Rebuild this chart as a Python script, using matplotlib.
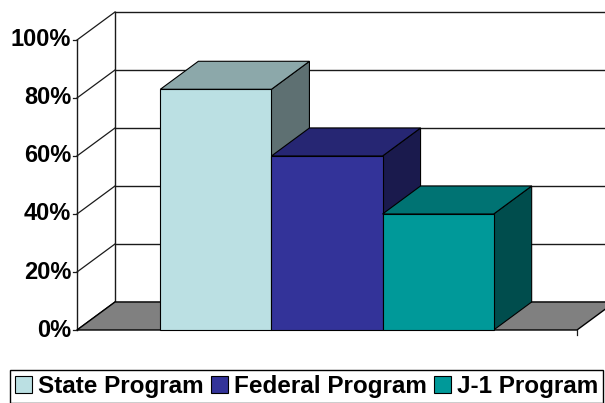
import matplotlib
matplotlib.use('Agg')
import matplotlib.pyplot as plt
from matplotlib.patches import Polygon, Patch

categories = ['State Program', 'Federal Program', 'J-1 Program']
values = [83, 60, 40]
yticks = [0, 20, 40, 60, 80, 100]
ytick_labels = ['0%', '20%', '40%', '60%', '80%', '100%']
front_colors = ['#BBE0E3', '#333399', '#009999']
top_colors = ['#8CA8AA', '#262673', '#007373']
side_colors = ['#5E7072', '#1A1A4D', '#004D4D']

FONT = 'Liberation Sans'

fig = plt.figure(figsize=(6.05, 4.03), dpi=100)
ax = fig.add_axes([0, 0, 1, 1])
ax.set_xlim(-0.462, 3.168)
ax.set_ylim(-25.17, 113.79)
ax.axis('off')

DX, DY = 0.228, 9.66
XMAX = 3.0
bar_w = 2 / 3
start = 0.5
tick = 0.026
gc = '#1a1a1a'

# back wall gridlines + diagonals
for v, lab in zip(yticks, ytick_labels):
    ax.plot([DX, XMAX + DX], [v + DY, v + DY], color=gc, lw=1.0, zorder=1)
    ax.plot([0, DX], [v, v + DY], color=gc, lw=0.9, zorder=1)
    ax.plot([-tick, 0], [v, v], color=gc, lw=0.9, zorder=1)
    ax.text(-0.035, v, lab, ha='right', va='center',
            fontsize=17, fontweight='bold', family=FONT)
ax.plot([DX, DX], [DY, 100 + DY], color=gc, lw=1.0, zorder=1)
ax.plot([0, 0], [0, 100], color=gc, lw=1.0, zorder=1)

# floor
floor = Polygon([(0, 0), (XMAX, 0), (XMAX + DX, DY), (DX, DY)], closed=True,
                facecolor='#808080', edgecolor='black', lw=1.0, zorder=2)
ax.add_patch(floor)
ax.plot([XMAX, XMAX], [0, -1.6], color=gc, lw=0.9, zorder=2)

# bars
for i, v in enumerate(values):
    x0 = start + i * bar_w
    x1 = x0 + bar_w
    side = Polygon([(x1, 0), (x1 + DX, DY), (x1 + DX, v + DY), (x1, v)], closed=True,
                   facecolor=side_colors[i], edgecolor='black', lw=0.8, zorder=3 + i)
    top = Polygon([(x0, v), (x1, v), (x1 + DX, v + DY), (x0 + DX, v + DY)], closed=True,
                  facecolor=top_colors[i], edgecolor='black', lw=0.8, zorder=3 + i)
    front = Polygon([(x0, 0), (x1, 0), (x1, v), (x0, v)], closed=True,
                    facecolor=front_colors[i], edgecolor='black', lw=0.8, zorder=3 + i)
    for p in (side, top, front):
        ax.add_patch(p)

handles = [Patch(facecolor=c, edgecolor='black', lw=0.8) for c in front_colors]
leg = fig.legend(handles, categories, loc='upper left',
                 bbox_to_anchor=(10 / 605, 1 - 370 / 403), ncol=3,
                 frameon=True, fancybox=False, edgecolor='black', framealpha=1,
                 prop=dict(family=FONT, weight='bold', size=17.5),
                 handlelength=0.7, handleheight=0.7, handletextpad=0.25,
                 columnspacing=0.3, borderpad=0.2, borderaxespad=0)
leg.get_frame().set_linewidth(1.0)

fig.savefig('out.png', dpi=100)
